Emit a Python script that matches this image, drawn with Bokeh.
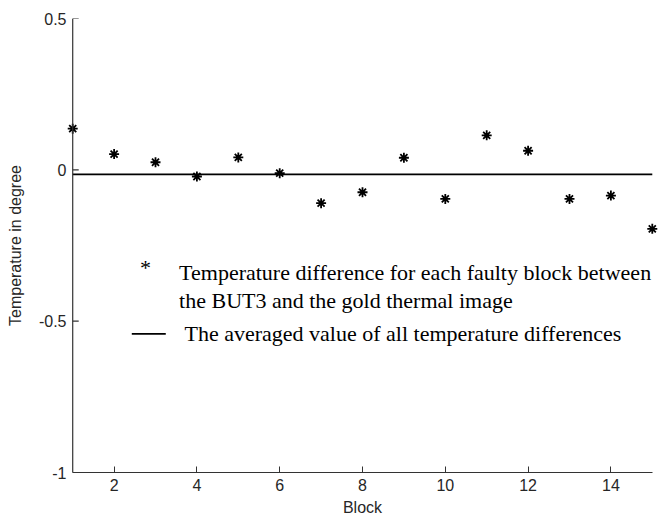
from bokeh.plotting import figure
from bokeh.models import Range1d, FixedTicker, Label, Span
from bokeh.embed import file_html
from bokeh.resources import INLINE

# ---- data ----
blocks = [1, 2, 3, 4, 5, 6, 7, 8, 9, 10, 11, 12, 13, 14, 15]
temp_diff = [0.136, 0.052, 0.025, -0.022, 0.041, -0.011, -0.110, -0.074,
             0.040, -0.096, 0.114, 0.063, -0.096, -0.085, -0.195]
mean_diff = -0.015

x_ticks = [2, 4, 6, 8, 10, 12, 14]
y_ticks = [-1, -0.5, 0, 0.5]
y_tick_labels = ["-1", "-0.5", "0", "0.5"]

legend_star_text = "*"
legend_line1 = "Temperature difference for each faulty block between"
legend_line2 = "the BUT3 and the gold thermal image"
legend_line3 = "The averaged value of all temperature differences"

SANS = "Liberation Sans"
SERIF = "Liberation Serif"
AXIS_COLOR = "#333333"
LABEL_COLOR = "#262626"

x_lo, x_hi = blocks[0], blocks[-1]
pad = 0.15

p = figure(width=662, height=521, output_backend="svg", toolbar_location=None,
           x_range=Range1d(x_lo - pad, x_hi + pad), y_range=Range1d(-1, 0.5),
           min_border_left=66, min_border_right=4, min_border_top=18,
           min_border_bottom=49)
p.outline_line_color = None
p.xgrid.visible = False
p.ygrid.visible = False
p.background_fill_color = "white"
p.border_fill_color = "white"

for ax in (p.xaxis[0], p.yaxis[0]):
    ax.axis_line_color = AXIS_COLOR
    ax.axis_line_width = 1.2
    ax.major_tick_line_color = AXIS_COLOR
    ax.major_tick_in = 6
    ax.major_tick_out = 0
    ax.minor_tick_line_color = None
    ax.major_label_text_font = SANS
    ax.major_label_text_font_size = "16px"
    ax.major_label_text_color = LABEL_COLOR
    ax.axis_label_text_font = SANS
    ax.axis_label_text_font_size = "16px"
    ax.axis_label_text_font_style = "normal"
    ax.axis_label_text_color = LABEL_COLOR

# x axis: line only from first to last block
p.xaxis.ticker = FixedTicker(ticks=x_ticks)
p.xaxis.bounds = (x_lo, x_hi)
p.xaxis.axis_label = "Block"
p.xaxis.major_label_standoff = 6
p.xaxis.axis_label_standoff = 5

# y axis (labels only, in the left panel)
p.yaxis.ticker = FixedTicker(ticks=y_ticks)
p.yaxis.major_label_overrides = {t: s for t, s in zip(y_ticks, y_tick_labels)}
p.yaxis.axis_label = "Temperature in degree"
p.yaxis.major_label_standoff = 0
p.yaxis.axis_label_standoff = 12
p.yaxis.axis_line_color = None
p.yaxis.major_tick_line_color = None

# y axis line + inward ticks at x = first block
p.add_layout(Span(location=x_lo, dimension="height", line_color=AXIS_COLOR,
                  line_width=1.2))
p.ray(x=[x_lo] * len(y_ticks), y=y_ticks, length=6, length_units="screen",
      angle=0, line_color=AXIS_COLOR, line_width=1.2)

# averaged value line
p.line([x_lo, x_hi], [mean_diff, mean_diff], line_color="black", line_width=1.8)

# data points
p.scatter(blocks, temp_diff, marker="asterisk", size=10, line_width=1.8,
          line_color="black")

# ---- legend (drawn manually) ----
def add_text(x, y, txt, align="left"):
    p.add_layout(Label(x=x, y=y, text=txt, text_font=SERIF, text_font_size="22px",
                       text_color="black", text_align=align,
                       text_baseline="alphabetic"))

add_text(2.76, -0.322, legend_star_text, align="center")
add_text(3.57, -0.338, legend_line1)
add_text(3.57, -0.432, legend_line2)
add_text(3.70, -0.540, legend_line3)
p.line([2.427, 3.248], [-0.5423, -0.5423], line_color="black", line_width=1.8)

open("out.html", "w").write(file_html(p, INLINE))
